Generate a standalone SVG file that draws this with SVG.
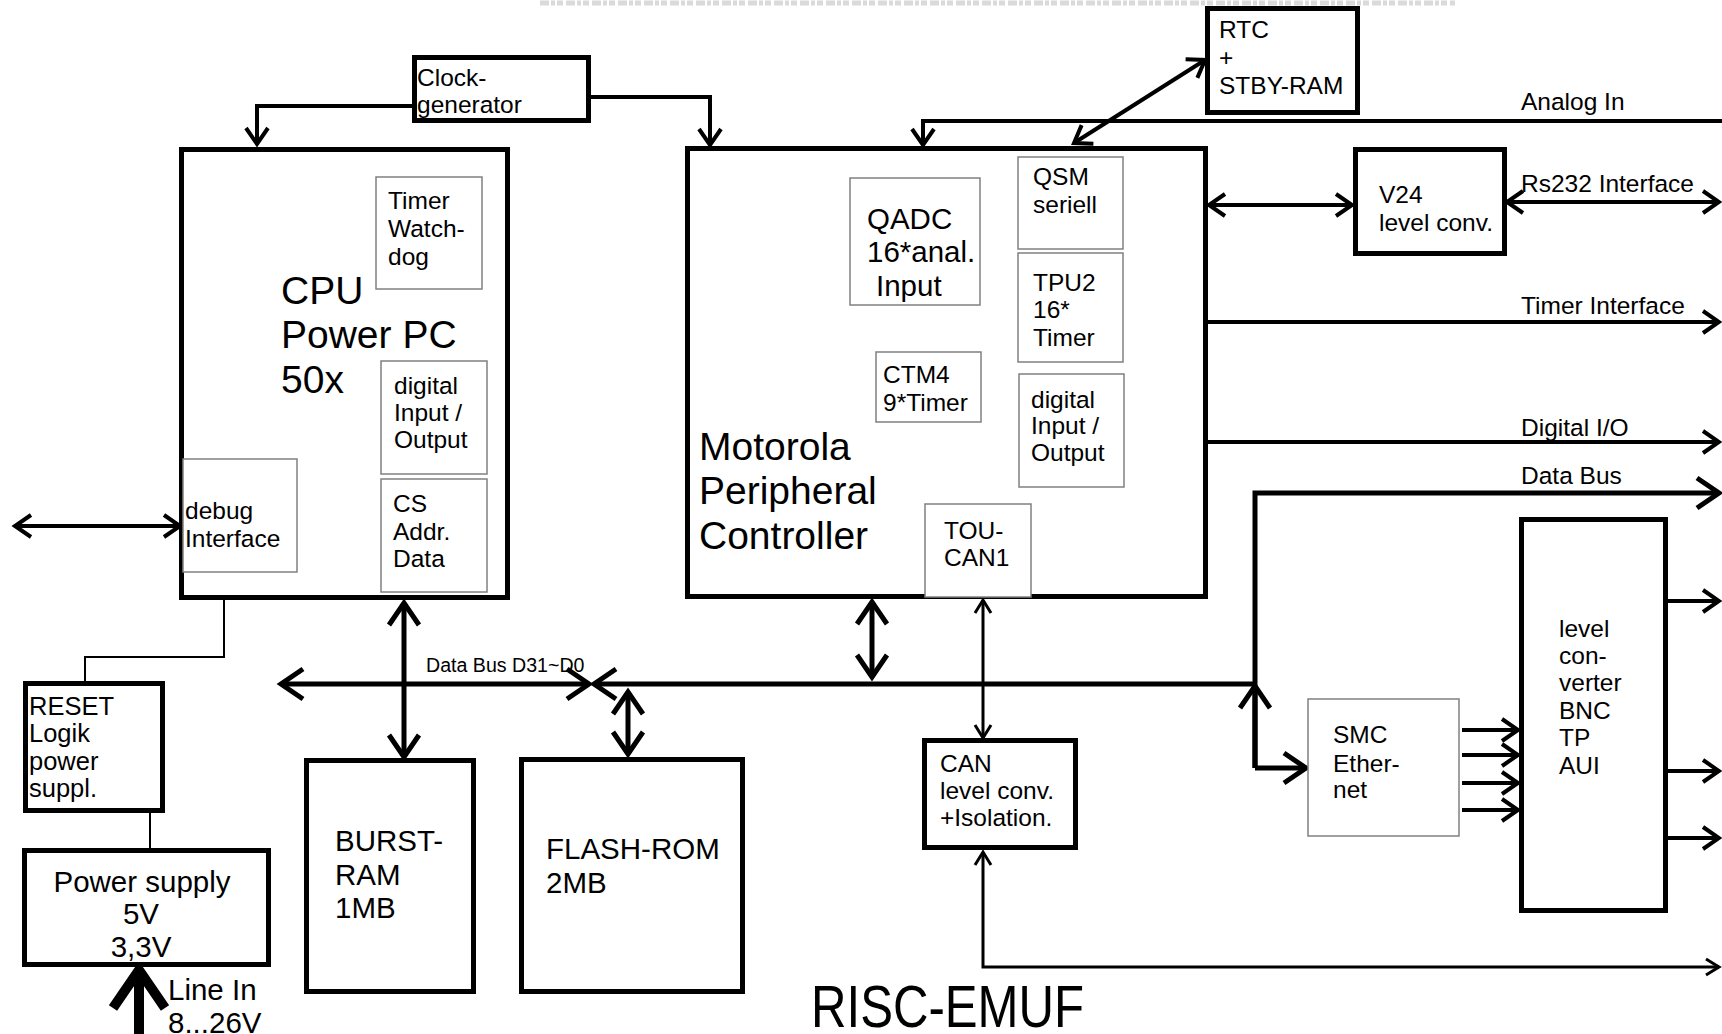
<svg xmlns="http://www.w3.org/2000/svg" width="1722" height="1034" viewBox="0 0 1722 1034">
<style>
text{font-family:"Liberation Sans",Arial,sans-serif;fill:#000}
.t24{font-size:24.5px}
.t28{font-size:29.5px}
.t37{font-size:39px}
.t19{font-size:19.6px}
.box{fill:#fff;stroke:#000;stroke-width:5}
.sub{fill:#fff;stroke:#808080;stroke-width:1.5}
.w5{fill:none;stroke:#000;stroke-width:5}
.w4{fill:none;stroke:#000;stroke-width:4}
.w3{fill:none;stroke:#000;stroke-width:3}
.w2{fill:none;stroke:#000;stroke-width:2}
</style>
<defs>
<marker id="al" markerUnits="userSpaceOnUse" viewBox="-30 -20 40 40" refX="0" refY="0" markerWidth="40" markerHeight="40" orient="auto-start-reverse" overflow="visible">
<path d="M-22,-15 L0,0 L-22,15" fill="none" stroke="#000" stroke-width="5"/>
</marker>
<marker id="am" markerUnits="userSpaceOnUse" viewBox="-30 -20 40 40" refX="0" refY="0" markerWidth="40" markerHeight="40" orient="auto-start-reverse" overflow="visible">
<path d="M-16,-11 L0,0 L-16,11" fill="none" stroke="#000" stroke-width="4"/>
</marker>
<marker id="as" markerUnits="userSpaceOnUse" viewBox="-30 -20 40 40" refX="0" refY="0" markerWidth="40" markerHeight="40" orient="auto-start-reverse" overflow="visible">
<path d="M-13,-8 L0,0 L-13,8" fill="none" stroke="#000" stroke-width="3"/>
</marker>
<marker id="aL" markerUnits="userSpaceOnUse" viewBox="-40 -30 50 60" refX="0" refY="0" markerWidth="50" markerHeight="60" orient="auto-start-reverse" overflow="visible">
<path d="M-38,-26 L0,0 L-38,26" fill="none" stroke="#000" stroke-width="10"/>
</marker>
</defs>

<line x1="540" y1="3" x2="1455" y2="3" stroke="#dadada" stroke-width="5" stroke-dasharray="9 2 4 2 6 3"/>

<g id="connectors">
<path class="w4" d="M414,106 H257 V144" marker-end="url(#am)"/>
<path class="w4" d="M591,97 H710 V145" marker-end="url(#am)"/>
<path class="w4" d="M1722,121 H923 V145" marker-end="url(#am)"/>
<line class="w4" x1="1205" y1="60" x2="1074" y2="143" marker-start="url(#am)" marker-end="url(#am)"/>
<line class="w4" x1="1209" y1="205" x2="1352" y2="205" marker-start="url(#am)" marker-end="url(#am)"/>
<line class="w4" x1="1507" y1="202" x2="1719" y2="202" marker-start="url(#am)" marker-end="url(#am)"/>
<line class="w4" x1="1208" y1="322" x2="1719" y2="322" marker-end="url(#am)"/>
<line class="w4" x1="1208" y1="442" x2="1719" y2="442" marker-end="url(#am)"/>
<line class="w4" x1="15" y1="526" x2="180" y2="526" marker-start="url(#am)" marker-end="url(#am)"/>
<path class="w2" d="M224,600 V657 H85 V682"/>
<line class="w2" x1="150" y1="813" x2="150" y2="849"/>
<line x1="139" y1="1034" x2="139" y2="970" stroke="#000" stroke-width="10" marker-end="url(#aL)"/>
<line class="w5" x1="281" y1="684" x2="589" y2="684" marker-start="url(#al)" marker-end="url(#al)"/>
<line class="w5" x1="594" y1="684" x2="1255" y2="684" marker-start="url(#al)"/>
<line class="w5" x1="404" y1="603" x2="404" y2="757" marker-start="url(#al)" marker-end="url(#al)"/>
<line class="w5" x1="628" y1="692" x2="628" y2="754" marker-start="url(#al)" marker-end="url(#al)"/>
<line class="w5" x1="872" y1="602" x2="872" y2="677" marker-start="url(#al)" marker-end="url(#al)"/>
<line class="w3" x1="983" y1="600" x2="983" y2="738" marker-start="url(#as)" marker-end="url(#as)"/>
<path class="w3" d="M1719,967 H983 V852" marker-start="url(#as)" marker-end="url(#as)"/>
<path class="w5" d="M1255,768 V493 H1719" marker-end="url(#al)"/>
<line class="w5" x1="1255" y1="768" x2="1255" y2="686" marker-end="url(#al)"/>
<path class="w5" d="M1255,768 H1306" marker-end="url(#al)"/>
<line class="w4" x1="1462" y1="730" x2="1518" y2="730" marker-end="url(#am)"/>
<line class="w4" x1="1462" y1="755" x2="1518" y2="755" marker-end="url(#am)"/>
<line class="w4" x1="1462" y1="783" x2="1518" y2="783" marker-end="url(#am)"/>
<line class="w4" x1="1462" y1="810" x2="1518" y2="810" marker-end="url(#am)"/>
<line class="w4" x1="1668" y1="601" x2="1719" y2="601" marker-end="url(#am)"/>
<line class="w4" x1="1668" y1="771" x2="1719" y2="771" marker-end="url(#am)"/>
<line class="w4" x1="1668" y1="838" x2="1719" y2="838" marker-end="url(#am)"/>
</g>

<g id="clock">
<rect class="box" x="414.5" y="57.5" width="174" height="63"/>
<text class="t24"><tspan x="417" y="86">Clock-</tspan><tspan x="417" y="113">generator</tspan></text>
</g>

<g id="cpu">
<rect class="box" x="181.5" y="149.5" width="326" height="448"/>
<text class="t37"><tspan x="281" y="304">CPU</tspan><tspan x="281" y="348">Power PC</tspan><tspan x="281" y="393">50x</tspan></text>
</g>
<g id="cpu-timer">
<rect class="sub" x="376" y="177" width="106" height="112"/>
<text class="t24"><tspan x="388" y="209">Timer</tspan><tspan x="388" y="237">Watch-</tspan><tspan x="388" y="265">dog</tspan></text>
</g>
<g id="cpu-dio">
<rect class="sub" x="381" y="361" width="106" height="113"/>
<text class="t24"><tspan x="394" y="394">digital</tspan><tspan x="394" y="421">Input /</tspan><tspan x="394" y="448">Output</tspan></text>
</g>
<g id="cpu-cs">
<rect class="sub" x="381" y="479" width="106" height="113"/>
<text class="t24"><tspan x="393" y="512">CS</tspan><tspan x="393" y="540">Addr.</tspan><tspan x="393" y="567">Data</tspan></text>
</g>
<g id="cpu-debug">
<rect class="sub" x="183" y="459" width="114" height="113"/>
<text class="t24"><tspan x="185" y="519">debug</tspan><tspan x="185" y="547">Interface</tspan></text>
</g>

<g id="reset">
<rect class="box" x="25.5" y="683.5" width="137" height="127"/>
<text style="font-size:25.5px"><tspan x="29" y="715">RESET</tspan><tspan x="29" y="742">Logik</tspan><tspan x="29" y="770">power</tspan><tspan x="29" y="797">suppl.</tspan></text>
</g>

<g id="power">
<rect class="box" x="24.5" y="850.5" width="244" height="114"/>
<text class="t28" text-anchor="middle"><tspan x="142" y="892">Power supply</tspan><tspan x="141" y="924">5V</tspan><tspan x="141" y="957">3,3V</tspan></text>
</g>
<text class="t28"><tspan x="168" y="1000">Line In</tspan><tspan x="168" y="1033">8...26V</tspan></text>

<text class="t19" x="426" y="672">Data Bus D31~D0</text>

<g id="burst">
<rect class="box" x="306.5" y="760.5" width="167" height="231"/>
<text class="t28"><tspan x="335" y="851">BURST-</tspan><tspan x="335" y="885">RAM</tspan><tspan x="335" y="918">1MB</tspan></text>
</g>
<g id="flash">
<rect class="box" x="521.5" y="759.5" width="221" height="232"/>
<text class="t28"><tspan x="546" y="859">FLASH-ROM</tspan><tspan x="546" y="893">2MB</tspan></text>
</g>

<g id="motorola">
<rect class="box" x="687.5" y="148.5" width="518" height="448"/>
<text class="t37"><tspan x="699" y="460">Motorola</tspan><tspan x="699" y="504">Peripheral</tspan><tspan x="699" y="549">Controller</tspan></text>
</g>
<g id="qadc">
<rect class="sub" x="850" y="178" width="130" height="127"/>
<text class="t28"><tspan x="867" y="229">QADC</tspan><tspan x="867" y="262">16*anal.</tspan><tspan x="876" y="296">Input</tspan></text>
</g>
<g id="qsm">
<rect class="sub" x="1018" y="157" width="105" height="92"/>
<text class="t24"><tspan x="1033" y="185">QSM</tspan><tspan x="1033" y="213">seriell</tspan></text>
</g>
<g id="tpu2">
<rect class="sub" x="1018" y="253" width="105" height="109"/>
<text class="t24"><tspan x="1033" y="291">TPU2</tspan><tspan x="1033" y="318">16*</tspan><tspan x="1033" y="346">Timer</tspan></text>
</g>
<g id="ctm4">
<rect class="sub" x="876" y="352" width="105" height="70"/>
<text class="t24"><tspan x="883" y="383">CTM4</tspan><tspan x="883" y="411">9*Timer</tspan></text>
</g>
<g id="mot-dio">
<rect class="sub" x="1019" y="374" width="105" height="113"/>
<text class="t24"><tspan x="1031" y="408">digital</tspan><tspan x="1031" y="434">Input /</tspan><tspan x="1031" y="461">Output</tspan></text>
</g>
<g id="toucan">
<rect class="sub" x="925" y="504" width="106" height="93"/>
<text class="t24"><tspan x="944" y="539">TOU-</tspan><tspan x="944" y="566">CAN1</tspan></text>
</g>

<g id="can">
<rect class="box" x="924.5" y="740.5" width="151" height="107"/>
<text class="t24"><tspan x="940" y="772">CAN</tspan><tspan x="940" y="799">level conv.</tspan><tspan x="940" y="826">+Isolation.</tspan></text>
</g>

<g id="rtc">
<rect class="box" x="1207.5" y="8.5" width="150" height="104"/>
<text class="t24"><tspan x="1219" y="38">RTC</tspan><tspan x="1219" y="66">+</tspan><tspan x="1219" y="94">STBY-RAM</tspan></text>
</g>

<g id="v24">
<rect class="box" x="1355.5" y="149.5" width="149" height="104"/>
<text class="t24"><tspan x="1379" y="203">V24</tspan><tspan x="1379" y="231">level conv.</tspan></text>
</g>

<g id="smc">
<rect class="sub" x="1308" y="699" width="151" height="137"/>
<text class="t24"><tspan x="1333" y="743">SMC</tspan><tspan x="1333" y="772">Ether-</tspan><tspan x="1333" y="798">net</tspan></text>
</g>

<g id="levelconv">
<rect class="box" x="1521.5" y="519.5" width="144" height="391"/>
<text class="t24"><tspan x="1559" y="637">level</tspan><tspan x="1559" y="664">con-</tspan><tspan x="1559" y="691">verter</tspan><tspan x="1559" y="719">BNC</tspan><tspan x="1559" y="746">TP</tspan><tspan x="1559" y="774">AUI</tspan></text>
</g>

<text class="t24" x="1521" y="110">Analog In</text>
<text class="t24" x="1521" y="192">Rs232 Interface</text>
<text class="t24" x="1521" y="314">Timer Interface</text>
<text class="t24" x="1521" y="436">Digital I/O</text>
<text class="t24" x="1521" y="484">Data Bus</text>

<text x="811" y="1027" font-size="60" textLength="273" lengthAdjust="spacingAndGlyphs">RISC-EMUF</text>
</svg>
